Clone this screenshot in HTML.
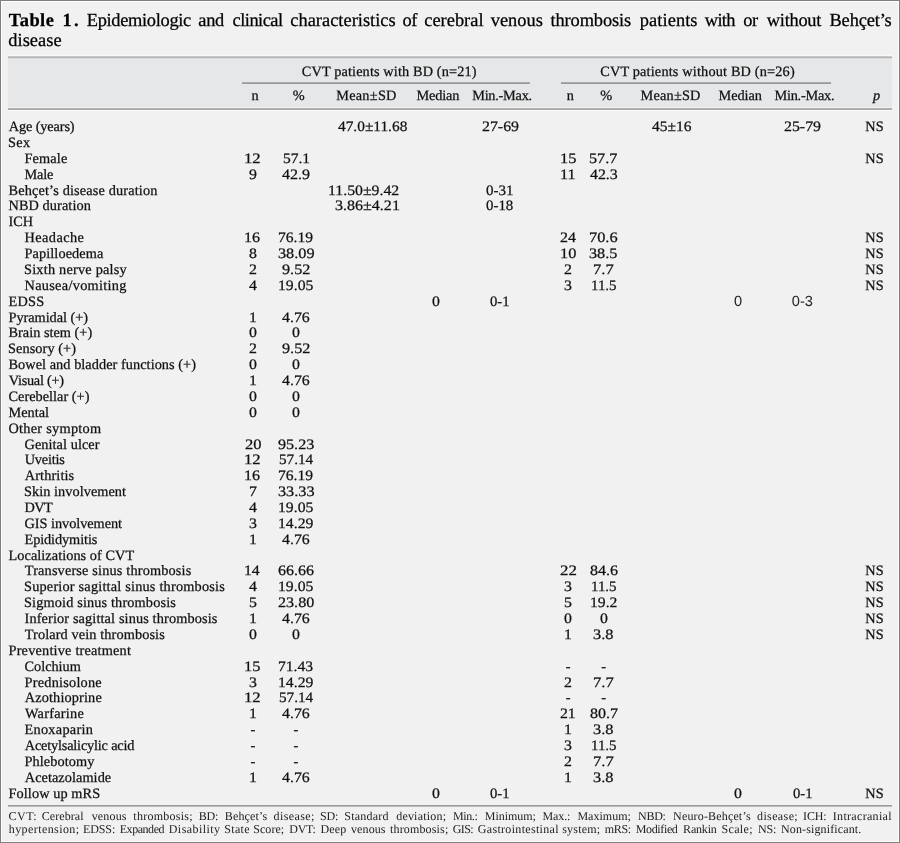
<!DOCTYPE html>
<html lang="en">
<head>
<meta charset="utf-8">
<title>Table 1</title>
<style>
html,body{margin:0;padding:0;}
body{width:900px;height:843px;position:relative;overflow:hidden;background:#f1f1f1;color:#111;
 font-family:"Liberation Serif",serif;text-rendering:geometricPrecision;}
#frame{position:absolute;left:0;top:0;width:896px;height:839px;border:1px solid #fff;outline:0;box-shadow:0 0 0 1px #7f7f7f;margin:1px;}
#hdbg{position:absolute;left:8.3px;top:58px;width:883.3px;height:50px;background:#e6e7e8;}
.rule{position:absolute;background:#a3a3a3;}
span.b,span.t,span.o,span.f,span.n,span.s{-webkit-text-stroke:0.25px currentColor;position:absolute;white-space:nowrap;line-height:20px;}
span.b{font-size:14.3px;}
span.s{font-size:14.6px;font-family:"Liberation Sans",sans-serif;-webkit-text-stroke:0;color:#222;}
span.n{font-size:14.4px;transform-origin:0 0;}
span.t{font-size:18.4px;color:#000;}
span.f{font-size:12px;color:#222;-webkit-text-stroke:0;}
</style>
</head>
<body>
<div id="frame"></div>
<div id="hdbg"></div>
<div class="rule" style="left:8.3px;top:55px;width:883.3px;height:1px;background:#f9f9f9;"></div>
<div class="rule" style="left:8.3px;top:56px;width:883.3px;height:1px;background:#c8c8c8;"></div>
<div class="rule" style="left:8.3px;top:57px;width:883.3px;height:1px;background:#b4b4b4;"></div>
<div class="rule" style="left:8.3px;top:58px;width:883.3px;height:1px;background:#dadbdb;"></div>
<div class="rule" style="left:8.3px;top:107px;width:883.3px;height:1px;background:#f0f1f2;"></div>
<div class="rule" style="left:8.3px;top:108px;width:883.3px;height:1px;background:#b2b2b2;"></div>
<div class="rule" style="left:8.3px;top:109px;width:883.3px;height:1px;background:#a8a9a8;"></div>
<div class="rule" style="left:8.3px;top:110px;width:883.3px;height:1px;background:#fdfdfd;"></div>
<div class="rule" style="left:242.4px;top:82px;width:287.6px;height:1px;background:#aaabab;"></div>
<div class="rule" style="left:242.4px;top:83px;width:287.6px;height:1px;background:#999a9a;"></div>
<div class="rule" style="left:561px;top:82px;width:270px;height:1px;background:#aaabab;"></div>
<div class="rule" style="left:561px;top:83px;width:270px;height:1px;background:#999a9a;"></div>
<div class="rule" style="left:8.3px;top:805px;width:883.3px;height:1px;background:#9b9b9b;"></div>
<div class="rule" style="left:8.3px;top:806px;width:883.3px;height:1px;background:#bcbcbc;"></div>
<span class="t" style="left:8.75px;top:10px;letter-spacing:0.450px;font-weight:bold;">Table</span>
<span class="t" style="left:62.50px;top:10px;letter-spacing:2.200px;font-weight:bold;">1.</span>
<span class="t" style="left:86.80px;top:10px;letter-spacing:-0.321px;">Epidemiologic</span>
<span class="t" style="left:198.25px;top:10px;letter-spacing:-0.250px;">and</span>
<span class="t" style="left:232.55px;top:10px;letter-spacing:-0.514px;">clinical</span>
<span class="t" style="left:290.25px;top:10px;letter-spacing:0.018px;">characteristics</span>
<span class="t" style="left:402.55px;top:10px;letter-spacing:-0.500px;">of</span>
<span class="t" style="left:424.25px;top:10px;letter-spacing:0.007px;">cerebral</span>
<span class="t" style="left:490.70px;top:10px;letter-spacing:0.020px;">venous</span>
<span class="t" style="left:550.55px;top:10px;letter-spacing:-0.128px;">thrombosis</span>
<span class="t" style="left:639.75px;top:10px;letter-spacing:0.079px;">patients</span>
<span class="t" style="left:704.80px;top:10px;letter-spacing:-0.700px;">with</span>
<span class="t" style="left:743.25px;top:10px;letter-spacing:-0.500px;">or</span>
<span class="t" style="left:766.80px;top:10px;letter-spacing:-0.267px;">without</span>
<span class="t" style="left:829.50px;top:10px;letter-spacing:-0.150px;">Behçet’s</span>
<span class="t" style="left:8.25px;top:30px;letter-spacing:0.042px;">disease</span>
<span class="b" style="left:301.80px;top:62px;letter-spacing:0.125px;">CVT patients with BD (n=21)</span>
<span class="b" style="left:600.20px;top:62px;letter-spacing:0.166px;">CVT patients without BD (n=26)</span>
<span class="b" style="left:251.38px;top:86px;">n</span>
<span class="b" style="left:292.65px;top:86px;">%</span>
<span class="b" style="left:336.20px;top:86px;letter-spacing:0.258px;">Mean±SD</span>
<span class="b" style="left:416.40px;top:86px;letter-spacing:-0.120px;">Median</span>
<span class="b" style="left:472.20px;top:86px;letter-spacing:-0.250px;">Min.-Max.</span>
<span class="b" style="left:566.73px;top:86px;">n</span>
<span class="b" style="left:600.25px;top:86px;">%</span>
<span class="b" style="left:640.50px;top:86px;letter-spacing:0.208px;">Mean±SD</span>
<span class="b" style="left:718.50px;top:86px;letter-spacing:-0.040px;">Median</span>
<span class="b" style="left:774.50px;top:86px;letter-spacing:-0.237px;">Min.-Max.</span>
<span class="b" style="left:873.00px;top:86px;font-style:italic;">p</span>
<span class="b" style="left:8.75px;top:117px;letter-spacing:-0.125px;">Age (years)</span>
<span class="b" style="left:8.00px;top:133px;letter-spacing:0.375px;">Sex</span>
<span class="b" style="left:24.50px;top:149px;letter-spacing:0.140px;">Female</span>
<span class="b" style="left:24.50px;top:165px;letter-spacing:-0.183px;">Male</span>
<span class="b" style="left:8.50px;top:181px;letter-spacing:0.148px;">Behçet’s disease duration</span>
<span class="b" style="left:8.50px;top:196px;letter-spacing:0.086px;">NBD duration</span>
<span class="b" style="left:8.50px;top:212px;letter-spacing:-0.025px;">ICH</span>
<span class="b" style="left:24.50px;top:228px;letter-spacing:0.436px;">Headache</span>
<span class="b" style="left:24.50px;top:244px;letter-spacing:0.095px;">Papilloedema</span>
<span class="b" style="left:24.00px;top:260px;letter-spacing:0.216px;">Sixth nerve palsy</span>
<span class="b" style="left:24.50px;top:276px;letter-spacing:0.304px;">Nausea/vomiting</span>
<span class="b" style="left:8.50px;top:292px;letter-spacing:0.267px;">EDSS</span>
<span class="b" style="left:8.50px;top:308px;letter-spacing:-0.038px;">Pyramidal (+)</span>
<span class="b" style="left:8.50px;top:323px;letter-spacing:0.015px;">Brain stem (+)</span>
<span class="b" style="left:8.00px;top:339px;letter-spacing:0.080px;">Sensory (+)</span>
<span class="b" style="left:8.50px;top:355px;letter-spacing:0.052px;">Bowel and bladder functions (+)</span>
<span class="b" style="left:8.75px;top:371px;letter-spacing:-0.272px;">Visual (+)</span>
<span class="b" style="left:8.50px;top:387px;letter-spacing:0.015px;">Cerebellar (+)</span>
<span class="b" style="left:8.50px;top:403px;letter-spacing:-0.010px;">Mental</span>
<span class="b" style="left:8.50px;top:419px;letter-spacing:0.271px;">Other symptom</span>
<span class="b" style="left:24.50px;top:435px;letter-spacing:0.067px;">Genital ulcer</span>
<span class="b" style="left:24.75px;top:450px;letter-spacing:-0.200px;">Uveitis</span>
<span class="b" style="left:24.75px;top:466px;letter-spacing:0.119px;">Arthritis</span>
<span class="b" style="left:24.00px;top:482px;letter-spacing:0.050px;">Skin involvement</span>
<span class="b" style="left:24.50px;top:498px;letter-spacing:-0.525px;">DVT</span>
<span class="b" style="left:24.50px;top:514px;letter-spacing:-0.036px;">GIS involvement</span>
<span class="b" style="left:24.50px;top:530px;letter-spacing:-0.095px;">Epididymitis</span>
<span class="b" style="left:8.50px;top:546px;letter-spacing:0.053px;">Localizations of CVT</span>
<span class="b" style="left:24.75px;top:561px;letter-spacing:0.162px;">Transverse sinus thrombosis</span>
<span class="b" style="left:24.00px;top:577px;letter-spacing:0.198px;">Superior sagittal sinus thrombosis</span>
<span class="b" style="left:24.00px;top:593px;letter-spacing:0.143px;">Sigmoid sinus thrombosis</span>
<span class="b" style="left:24.50px;top:609px;letter-spacing:0.127px;">Inferior sagittal sinus thrombosis</span>
<span class="b" style="left:24.75px;top:625px;letter-spacing:0.105px;">Trolard vein thrombosis</span>
<span class="b" style="left:8.50px;top:641px;letter-spacing:0.197px;">Preventive treatment</span>
<span class="b" style="left:24.50px;top:657px;letter-spacing:-0.007px;">Colchium</span>
<span class="b" style="left:24.50px;top:673px;letter-spacing:0.232px;">Prednisolone</span>
<span class="b" style="left:24.75px;top:688px;letter-spacing:0.141px;">Azothioprine</span>
<span class="b" style="left:25.00px;top:704px;letter-spacing:0.256px;">Warfarine</span>
<span class="b" style="left:24.50px;top:720px;letter-spacing:0.272px;">Enoxaparin</span>
<span class="b" style="left:24.75px;top:736px;letter-spacing:-0.182px;">Acetylsalicylic acid</span>
<span class="b" style="left:24.50px;top:752px;letter-spacing:0.089px;">Phlebotomy</span>
<span class="b" style="left:24.75px;top:768px;letter-spacing:0.058px;">Acetazolamide</span>
<span class="b" style="left:8.50px;top:784px;letter-spacing:0.087px;">Follow up mRS</span>
<span class="n" style="left:337.73px;top:117px;transform:scaleX(1.0677);">47.0±11.68</span>
<span class="n" style="left:481.55px;top:117px;transform:scaleX(1.1015);">27-69</span>
<span class="n" style="left:652.03px;top:117px;transform:scaleX(1.0750);">45±16</span>
<span class="n" style="left:783.85px;top:117px;transform:scaleX(1.1015);">25-79</span>
<span class="b" style="left:865.20px;top:117px;letter-spacing:0.200px;">NS</span>
<span class="n" style="left:244.35px;top:149px;transform:scaleX(1.1592);">12</span>
<span class="n" style="left:282.54px;top:149px;transform:scaleX(1.0766);">57.1</span>
<span class="n" style="left:559.58px;top:149px;transform:scaleX(1.1360);">15</span>
<span class="n" style="left:589.26px;top:149px;transform:scaleX(1.1250);">57.7</span>
<span class="b" style="left:865.20px;top:149px;letter-spacing:0.200px;">NS</span>
<span class="n" style="left:249.05px;top:165px;transform:scaleX(1.1000);">9</span>
<span class="n" style="left:282.22px;top:165px;transform:scaleX(1.1134);">42.9</span>
<span class="n" style="left:560.10px;top:165px;transform:scaleX(1.1234);">11</span>
<span class="n" style="left:589.82px;top:165px;transform:scaleX(1.1020);">42.3</span>
<span class="n" style="left:328.43px;top:181px;transform:scaleX(1.0968);">11.50±9.42</span>
<span class="n" style="left:486.43px;top:181px;transform:scaleX(1.0440);">0-31</span>
<span class="n" style="left:335.16px;top:196px;transform:scaleX(1.1137);">3.86±4.21</span>
<span class="n" style="left:486.43px;top:196px;transform:scaleX(1.0337);">0-18</span>
<span class="n" style="left:244.41px;top:228px;transform:scaleX(1.1137);">16</span>
<span class="n" style="left:278.27px;top:228px;transform:scaleX(1.0829);">76.19</span>
<span class="n" style="left:559.95px;top:228px;transform:scaleX(1.1055);">24</span>
<span class="n" style="left:588.96px;top:228px;transform:scaleX(1.1368);">70.6</span>
<span class="b" style="left:865.20px;top:228px;letter-spacing:0.200px;">NS</span>
<span class="n" style="left:248.91px;top:244px;transform:scaleX(1.1000);">8</span>
<span class="n" style="left:277.65px;top:244px;transform:scaleX(1.1290);">38.09</span>
<span class="n" style="left:559.58px;top:244px;transform:scaleX(1.1360);">10</span>
<span class="n" style="left:589.26px;top:244px;transform:scaleX(1.1250);">38.5</span>
<span class="b" style="left:865.20px;top:244px;letter-spacing:0.200px;">NS</span>
<span class="n" style="left:249.05px;top:260px;transform:scaleX(1.1000);">2</span>
<span class="n" style="left:281.94px;top:260px;transform:scaleX(1.1250);">9.52</span>
<span class="n" style="left:564.25px;top:260px;transform:scaleX(1.1000);">2</span>
<span class="n" style="left:592.95px;top:260px;transform:scaleX(1.1515);">7.7</span>
<span class="b" style="left:865.20px;top:260px;letter-spacing:0.200px;">NS</span>
<span class="n" style="left:248.91px;top:276px;transform:scaleX(1.1000);">4</span>
<span class="n" style="left:277.99px;top:276px;transform:scaleX(1.0918);">19.05</span>
<span class="n" style="left:563.98px;top:276px;transform:scaleX(1.1000);">3</span>
<span class="n" style="left:590.50px;top:276px;transform:scaleX(1.0374);">11.5</span>
<span class="b" style="left:865.20px;top:276px;letter-spacing:0.200px;">NS</span>
<span class="n" style="left:432.01px;top:292px;transform:scaleX(1.1000);">0</span>
<span class="n" style="left:490.44px;top:292px;transform:scaleX(1.0197);">0-1</span>
<span class="s" style="left:734.00px;top:292px;">0</span>
<span class="s" style="left:791.80px;top:292px;">0-3</span>
<span class="n" style="left:248.78px;top:308px;transform:scaleX(1.1000);">1</span>
<span class="n" style="left:282.22px;top:308px;transform:scaleX(1.1020);">4.76</span>
<span class="n" style="left:248.91px;top:323px;transform:scaleX(1.1000);">0</span>
<span class="n" style="left:292.01px;top:323px;transform:scaleX(1.1000);">0</span>
<span class="n" style="left:249.05px;top:339px;transform:scaleX(1.1000);">2</span>
<span class="n" style="left:281.94px;top:339px;transform:scaleX(1.1250);">9.52</span>
<span class="n" style="left:248.91px;top:355px;transform:scaleX(1.1000);">0</span>
<span class="n" style="left:292.01px;top:355px;transform:scaleX(1.1000);">0</span>
<span class="n" style="left:248.78px;top:371px;transform:scaleX(1.1000);">1</span>
<span class="n" style="left:282.22px;top:371px;transform:scaleX(1.1020);">4.76</span>
<span class="n" style="left:248.91px;top:387px;transform:scaleX(1.1000);">0</span>
<span class="n" style="left:292.01px;top:387px;transform:scaleX(1.1000);">0</span>
<span class="n" style="left:248.91px;top:403px;transform:scaleX(1.1000);">0</span>
<span class="n" style="left:292.01px;top:403px;transform:scaleX(1.1000);">0</span>
<span class="n" style="left:244.73px;top:435px;transform:scaleX(1.1472);">20</span>
<span class="n" style="left:277.94px;top:435px;transform:scaleX(1.1200);">95.23</span>
<span class="n" style="left:244.35px;top:450px;transform:scaleX(1.1592);">12</span>
<span class="n" style="left:278.56px;top:450px;transform:scaleX(1.0571);">57.14</span>
<span class="n" style="left:244.41px;top:466px;transform:scaleX(1.1137);">16</span>
<span class="n" style="left:278.27px;top:466px;transform:scaleX(1.0829);">76.19</span>
<span class="n" style="left:248.64px;top:482px;transform:scaleX(1.1000);">7</span>
<span class="n" style="left:277.65px;top:482px;transform:scaleX(1.1290);">33.33</span>
<span class="n" style="left:248.91px;top:498px;transform:scaleX(1.1000);">4</span>
<span class="n" style="left:277.99px;top:498px;transform:scaleX(1.0918);">19.05</span>
<span class="n" style="left:248.78px;top:514px;transform:scaleX(1.1000);">3</span>
<span class="n" style="left:277.99px;top:514px;transform:scaleX(1.0918);">14.29</span>
<span class="n" style="left:248.78px;top:530px;transform:scaleX(1.1000);">1</span>
<span class="n" style="left:282.22px;top:530px;transform:scaleX(1.1020);">4.76</span>
<span class="n" style="left:244.43px;top:561px;transform:scaleX(1.0923);">14</span>
<span class="n" style="left:277.94px;top:561px;transform:scaleX(1.1111);">66.66</span>
<span class="n" style="left:559.92px;top:561px;transform:scaleX(1.1692);">22</span>
<span class="n" style="left:589.54px;top:561px;transform:scaleX(1.1134);">84.6</span>
<span class="b" style="left:865.20px;top:561px;letter-spacing:0.200px;">NS</span>
<span class="n" style="left:248.91px;top:577px;transform:scaleX(1.1000);">4</span>
<span class="n" style="left:277.99px;top:577px;transform:scaleX(1.0918);">19.05</span>
<span class="n" style="left:563.98px;top:577px;transform:scaleX(1.1000);">3</span>
<span class="n" style="left:590.50px;top:577px;transform:scaleX(1.0374);">11.5</span>
<span class="b" style="left:865.20px;top:577px;letter-spacing:0.200px;">NS</span>
<span class="n" style="left:248.78px;top:593px;transform:scaleX(1.1000);">5</span>
<span class="n" style="left:277.94px;top:593px;transform:scaleX(1.1200);">23.80</span>
<span class="n" style="left:563.98px;top:593px;transform:scaleX(1.1000);">5</span>
<span class="n" style="left:589.59px;top:593px;transform:scaleX(1.0882);">19.2</span>
<span class="b" style="left:865.20px;top:593px;letter-spacing:0.200px;">NS</span>
<span class="n" style="left:248.78px;top:609px;transform:scaleX(1.1000);">1</span>
<span class="n" style="left:282.22px;top:609px;transform:scaleX(1.1020);">4.76</span>
<span class="n" style="left:564.11px;top:609px;transform:scaleX(1.1000);">0</span>
<span class="n" style="left:599.61px;top:609px;transform:scaleX(1.1000);">0</span>
<span class="b" style="left:865.20px;top:609px;letter-spacing:0.200px;">NS</span>
<span class="n" style="left:248.91px;top:625px;transform:scaleX(1.1000);">0</span>
<span class="n" style="left:292.01px;top:625px;transform:scaleX(1.1000);">0</span>
<span class="n" style="left:563.98px;top:625px;transform:scaleX(1.1000);">1</span>
<span class="n" style="left:593.25px;top:625px;transform:scaleX(1.1343);">3.8</span>
<span class="b" style="left:865.20px;top:625px;letter-spacing:0.200px;">NS</span>
<span class="n" style="left:244.38px;top:657px;transform:scaleX(1.1360);">15</span>
<span class="n" style="left:278.27px;top:657px;transform:scaleX(1.0829);">71.43</span>
<span class="n" style="left:565.73px;top:657px;">-</span>
<span class="n" style="left:601.23px;top:657px;">-</span>
<span class="n" style="left:248.78px;top:673px;transform:scaleX(1.1000);">3</span>
<span class="n" style="left:277.99px;top:673px;transform:scaleX(1.0918);">14.29</span>
<span class="n" style="left:564.25px;top:673px;transform:scaleX(1.1000);">2</span>
<span class="n" style="left:592.95px;top:673px;transform:scaleX(1.1515);">7.7</span>
<span class="n" style="left:244.35px;top:688px;transform:scaleX(1.1592);">12</span>
<span class="n" style="left:278.56px;top:688px;transform:scaleX(1.0571);">57.14</span>
<span class="n" style="left:565.73px;top:688px;">-</span>
<span class="n" style="left:601.23px;top:688px;">-</span>
<span class="n" style="left:248.78px;top:704px;transform:scaleX(1.1000);">1</span>
<span class="n" style="left:282.22px;top:704px;transform:scaleX(1.1020);">4.76</span>
<span class="n" style="left:560.45px;top:704px;transform:scaleX(1.0923);">21</span>
<span class="n" style="left:589.54px;top:704px;transform:scaleX(1.1134);">80.7</span>
<span class="n" style="left:250.53px;top:720px;">-</span>
<span class="n" style="left:293.62px;top:720px;">-</span>
<span class="n" style="left:563.98px;top:720px;transform:scaleX(1.1000);">1</span>
<span class="n" style="left:593.25px;top:720px;transform:scaleX(1.1343);">3.8</span>
<span class="n" style="left:250.53px;top:736px;">-</span>
<span class="n" style="left:293.62px;top:736px;">-</span>
<span class="n" style="left:563.98px;top:736px;transform:scaleX(1.1000);">3</span>
<span class="n" style="left:590.50px;top:736px;transform:scaleX(1.0374);">11.5</span>
<span class="n" style="left:250.53px;top:752px;">-</span>
<span class="n" style="left:293.62px;top:752px;">-</span>
<span class="n" style="left:564.25px;top:752px;transform:scaleX(1.1000);">2</span>
<span class="n" style="left:592.95px;top:752px;transform:scaleX(1.1515);">7.7</span>
<span class="n" style="left:248.78px;top:768px;transform:scaleX(1.1000);">1</span>
<span class="n" style="left:282.22px;top:768px;transform:scaleX(1.1020);">4.76</span>
<span class="n" style="left:563.98px;top:768px;transform:scaleX(1.1000);">1</span>
<span class="n" style="left:593.25px;top:768px;transform:scaleX(1.1343);">3.8</span>
<span class="n" style="left:432.01px;top:784px;transform:scaleX(1.1000);">0</span>
<span class="n" style="left:490.44px;top:784px;transform:scaleX(1.0197);">0-1</span>
<span class="n" style="left:734.01px;top:784px;transform:scaleX(1.1000);">0</span>
<span class="n" style="left:792.74px;top:784px;transform:scaleX(1.0197);">0-1</span>
<span class="b" style="left:865.20px;top:784px;letter-spacing:0.200px;">NS</span>
<span class="f" style="left:8.50px;top:806px;letter-spacing:0.483px;">CVT:</span>
<span class="f" style="left:41.80px;top:806px;letter-spacing:0.071px;">Cerebral</span>
<span class="f" style="left:91.70px;top:806px;letter-spacing:0.160px;">venous</span>
<span class="f" style="left:133.30px;top:806px;letter-spacing:0.265px;">thrombosis;</span>
<span class="f" style="left:198.75px;top:806px;letter-spacing:-0.225px;">BD:</span>
<span class="f" style="left:224.75px;top:806px;letter-spacing:0.171px;">Behçet’s</span>
<span class="f" style="left:273.50px;top:806px;letter-spacing:0.400px;">disease;</span>
<span class="f" style="left:319.95px;top:806px;letter-spacing:-0.200px;">SD:</span>
<span class="f" style="left:344.25px;top:806px;letter-spacing:0.221px;">Standard</span>
<span class="f" style="left:396.20px;top:806px;letter-spacing:0.200px;">deviation;</span>
<span class="f" style="left:453.05px;top:806px;letter-spacing:-0.400px;">Min.:</span>
<span class="f" style="left:484.75px;top:806px;letter-spacing:-0.036px;">Minimum;</span>
<span class="f" style="left:542.45px;top:806px;letter-spacing:-0.100px;">Max.:</span>
<span class="f" style="left:577.45px;top:806px;letter-spacing:0.007px;">Maximum;</span>
<span class="f" style="left:638.05px;top:806px;letter-spacing:-0.267px;">NBD:</span>
<span class="f" style="left:673.05px;top:806px;letter-spacing:0.169px;">Neuro-Behçet’s</span>
<span class="f" style="left:757.00px;top:806px;letter-spacing:0.386px;">disease;</span>
<span class="f" style="left:803.10px;top:806px;letter-spacing:-0.167px;">ICH:</span>
<span class="f" style="left:832.80px;top:806px;letter-spacing:0.309px;">Intracranial</span>
<span class="f" style="left:8.75px;top:819px;letter-spacing:0.421px;">hypertension;</span>
<span class="f" style="left:83.05px;top:819px;letter-spacing:-0.125px;">EDSS:</span>
<span class="f" style="left:119.75px;top:819px;letter-spacing:-0.457px;">Expanded</span>
<span class="f" style="left:168.75px;top:819px;letter-spacing:0.444px;">Disability</span>
<span class="f" style="left:224.25px;top:819px;letter-spacing:0.312px;">State</span>
<span class="f" style="left:253.25px;top:819px;letter-spacing:0.060px;">Score;</span>
<span class="f" style="left:289.25px;top:819px;letter-spacing:-0.250px;">DVT:</span>
<span class="f" style="left:320.45px;top:819px;letter-spacing:0.167px;">Deep</span>
<span class="f" style="left:351.00px;top:819px;letter-spacing:0.100px;">venous</span>
<span class="f" style="left:390.00px;top:819px;letter-spacing:0.155px;">thrombosis;</span>
<span class="f" style="left:452.80px;top:819px;letter-spacing:-0.617px;">GIS:</span>
<span class="f" style="left:477.80px;top:819px;letter-spacing:0.317px;">Gastrointestinal</span>
<span class="f" style="left:562.20px;top:819px;letter-spacing:0.225px;">system;</span>
<span class="f" style="left:604.75px;top:819px;letter-spacing:-0.333px;">mRS:</span>
<span class="f" style="left:635.75px;top:819px;letter-spacing:-0.364px;">Modified</span>
<span class="f" style="left:683.05px;top:819px;letter-spacing:-0.170px;">Rankin</span>
<span class="f" style="left:721.55px;top:819px;letter-spacing:0.330px;">Scale;</span>
<span class="f" style="left:758.05px;top:819px;letter-spacing:-0.150px;">NS:</span>
<span class="f" style="left:781.05px;top:819px;letter-spacing:0.123px;">Non-significant.</span>
</body>
</html>
